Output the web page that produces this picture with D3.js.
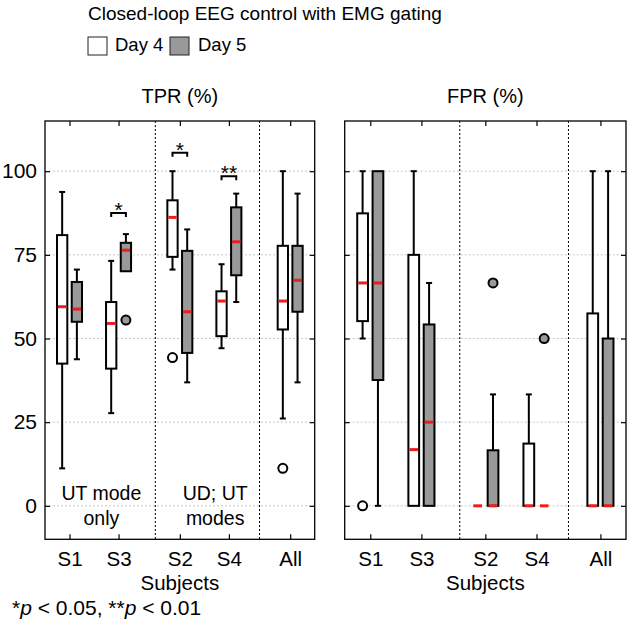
<!DOCTYPE html>
<html><head><meta charset="utf-8">
<script src="https://cdn.jsdelivr.net/npm/d3@7"></script>
<style>body{margin:0;background:#fff;} text{font-family:"Liberation Sans",Arial,sans-serif;}</style>
</head><body><svg id="c" width="630" height="629"></svg>
<script>
const subjects = ["S1","S3","S2","S4","All"];
const subjectPos = [1, 2, 3.25, 4.25, 5.5];
const dividers = [2.75, 4.875];
const yTicks = [0, 25, 50, 75, 100];
const days = ["Day 4","Day 5"];
// [whiskerLow, q1, median, q3, whiskerHigh]
const tprDay4 = [[11.2,42.5,59.5,80.9,93.8],[27.7,41,54.5,60.9,73.2],[70.6,74.4,86.2,91.3,100],[47.1,50.7,61.2,64.1,72.2],[26.1,52.7,61.2,77.7,100]];
const tprDay5 = [[43.8,55,58.8,66.9,70.6],[70.1,70.1,76.4,78.6,81.2],[36.9,45.7,58,76.2,82.6],[60.9,68.9,78.9,89.2,93.3],[36.9,58,67.4,77.7,93.3]];
const tprOut4 = [[],[],[44.3],[],[11.2]];
const tprOut5 = [[],[55.5],[],[],[]];
const fprDay4 = [[50,55.2,66.6,87.4,100],[0,0,16.8,75,100],[0,0,0,0,0],[0,0,0,18.6,33.3],[0,0,0,57.5,100]];
const fprDay5 = [[0,37.6,66.6,100,100],[0,0,25,54.2,66.6],[0,0,0,16.6,33.3],[0,0,0,0,0],[0,0,0,50,100]];
const fprOut4 = [[0],[],[],[],[]];
const fprOut5 = [[],[],[66.6],[50],[]];
// significance: [subject index, yLevel, label]
const tprSig = [[1,87.5,"*"],[2,105.5,"*"],[3,98.5,"**"]];

const svg = d3.select("#c");
const font = '"Liberation Sans",Arial,sans-serif';
const grey = "#999999";

svg.append("text").attr("x",88).attr("y",20).attr("font-size",19).text("Closed-loop EEG control with EMG gating");
const leg = svg.append("g");
[[88,"#fff",115],[170,grey,198]].forEach((d,i)=>{
  leg.append("rect").attr("x",d[0]).attr("y",37).attr("width",19).attr("height",18).attr("fill",d[1]).attr("stroke","#222").attr("stroke-width",1);
  leg.append("text").attr("x",d[2]).attr("y",51).attr("font-size",18.5).text(days[i]);
});

function panel(x0,x1,title,d4,d5,o4,o5,sig,showY,notes){
  const x = d3.scaleLinear().domain([0.5,6]).range([x0,x1]);
  const y = d3.scaleLinear().domain([-10,115]).range([539.3,121]);
  const g = svg.append("g");
  // grid
  g.selectAll(".grid").data(yTicks).join("line").attr("x1",x0).attr("x2",x1)
    .attr("y1",d=>y(d)).attr("y2",d=>y(d)).attr("stroke","#c8c8c8").attr("stroke-width",1).attr("stroke-dasharray","2,2");
  // dividers
  g.selectAll(".div").data(dividers).join("line").attr("x1",d=>x(d)).attr("x2",d=>x(d))
    .attr("y1",y(115)).attr("y2",y(-10)).attr("stroke","#000").attr("stroke-width",1).attr("stroke-dasharray","2,2");
  // axes
  const ax = d3.axisBottom(x).tickValues(subjectPos).tickFormat((d,i)=>subjects[i]).tickSizeInner(-5).tickSizeOuter(0).tickPadding(12);
  const ga = g.append("g").attr("transform",`translate(0,${y(-10)})`).call(ax);
  ga.selectAll("text").attr("font-size",20.5).attr("font-family",font).attr("fill","#000");
  const at = d3.axisTop(x).tickValues(subjectPos).tickFormat("").tickSizeInner(-5).tickSizeOuter(0);
  g.append("g").attr("transform",`translate(0,${y(115)})`).call(at);
  const al = d3.axisLeft(y).tickValues(yTicks).tickFormat(showY?d3.format("d"):"").tickSizeInner(-5).tickSizeOuter(0).tickPadding(8);
  const gl = g.append("g").attr("transform",`translate(${x0},0)`).call(al);
  gl.selectAll("text").attr("font-size",21).attr("font-family",font).attr("fill","#000");
  const ar = d3.axisRight(y).tickValues(yTicks).tickFormat("").tickSizeInner(-5).tickSizeOuter(0);
  g.append("g").attr("transform",`translate(${x1},0)`).call(ar);
  g.selectAll(".domain").remove();
  g.selectAll(".tick line").attr("stroke","#000").attr("stroke-width",1.2);
  g.append("rect").attr("x",x0).attr("y",y(115)).attr("width",x1-x0).attr("height",y(-10)-y(115))
    .attr("fill","none").attr("stroke","#000").attr("stroke-width",1.3);
  // titles
  g.append("text").attr("x",(x0+x1)/2).attr("y",103).attr("text-anchor","middle").attr("font-size",20).text(title);
  g.append("text").attr("x",x(3.25)).attr("y",590).attr("text-anchor","middle").attr("font-size",20.5).text("Subjects");
  const off = (x(1)-x(0))*0.15;
  const bw = (x(1)-x(0))*0.21;
  [[d4,o4,-1,"#fff"],[d5,o5,1,grey]].forEach(([data,outs,sgn,fill])=>{
    data.forEach((s,i)=>{
      const cx = x(subjectPos[i])+sgn*off;
      const bg = g.append("g");
      if(s[4]>s[3]) bg.append("line").attr("x1",cx).attr("x2",cx).attr("y1",y(s[3])).attr("y2",y(s[4])).attr("stroke","#000").attr("stroke-width",2);
      if(s[1]>s[0]) bg.append("line").attr("x1",cx).attr("x2",cx).attr("y1",y(s[1])).attr("y2",y(s[0])).attr("stroke","#000").attr("stroke-width",2);
      if(s[4]>s[3]) bg.append("line").attr("x1",cx-3).attr("x2",cx+3).attr("y1",y(s[4])).attr("y2",y(s[4])).attr("stroke","#000").attr("stroke-width",2);
      if(s[1]>s[0]) bg.append("line").attr("x1",cx-3).attr("x2",cx+3).attr("y1",y(s[0])).attr("y2",y(s[0])).attr("stroke","#000").attr("stroke-width",2);
      if(s[3]>s[1]) bg.append("rect").attr("x",cx-bw/2).attr("y",y(s[3])).attr("width",bw).attr("height",y(s[1])-y(s[3]))
        .attr("fill",fill).attr("stroke","#000").attr("stroke-width",2);
      bg.append("line").attr("x1",cx-bw/2+1).attr("x2",cx+bw/2-1).attr("y1",y(s[2])).attr("y2",y(s[2])).attr("stroke","#ee1c1c").attr("stroke-width",3);
      outs[i].forEach(v=>{
        bg.append("circle").attr("cx",cx).attr("cy",y(v)).attr("r",4.5).attr("fill",fill).attr("stroke","#000").attr("stroke-width",2);
      });
    });
  });
  sig.forEach(([i,lv,lab])=>{
    const xa = x(subjectPos[i])-off, xb = x(subjectPos[i])+off, yy = y(lv);
    g.append("path").attr("d",`M${xa},${yy+4}V${yy}H${xb}V${yy+4}`).attr("fill","none").attr("stroke","#000").attr("stroke-width",2);
    g.append("text").attr("x",(xa+xb)/2).attr("y",yy+4).attr("text-anchor","middle").attr("font-size",21).text(lab);
  });
  notes.forEach(([pos,l1,l2])=>{
    g.append("text").attr("x",x(pos)).attr("y",500).attr("text-anchor","middle").attr("font-size",19.5).text(l1);
    g.append("text").attr("x",x(pos)).attr("y",525).attr("text-anchor","middle").attr("font-size",19.5).text(l2);
  });
}
panel(45,314.7,"TPR (%)",tprDay4,tprDay5,tprOut4,tprOut5,tprSig,true,[[1.65,"UT mode","only"],[3.97,"UD; UT","modes"]]);
panel(344.7,626,"FPR (%)",fprDay4,fprDay5,fprOut4,fprOut5,[],false,[]);

const fn = svg.append("text").attr("x",12).attr("y",615).attr("font-size",21);
fn.append("tspan").text("*");
fn.append("tspan").attr("font-style","italic").text("p");
fn.append("tspan").text(" < 0.05, **");
fn.append("tspan").attr("font-style","italic").text("p");
fn.append("tspan").text(" < 0.01");
</script></body></html>
